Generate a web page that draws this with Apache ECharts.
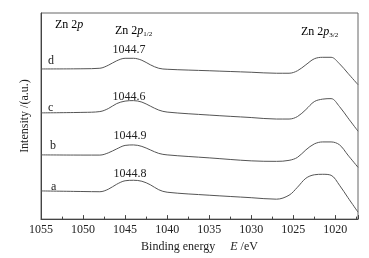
<!DOCTYPE html>
<html>
<head>
<meta charset="utf-8">
<script src="https://cdn.jsdelivr.net/npm/echarts@6/dist/echarts.min.js"></script>
<style>
  html, body { margin: 0; padding: 0; background: #fff; }
  #chart { width: 369px; height: 258px; }
</style>
</head>
<body>
<div id="chart"></div>
<script>
// binding energy (eV), shared by all four spectra
const energy = [1055, 1050, 1048, 1047, 1046, 1045, 1044, 1043, 1042, 1041, 1040, 1035, 1030, 1027, 1025.5, 1024.5, 1023.5, 1022.5, 1021.5, 1020.5, 1019.5, 1018.5, 1017.3];
// intensity (a.u.), curves stacked a (bottom) .. d (top)
const curveA = [28.3, 27.7, 27.5, 30, 35, 38.5, 39, 38, 34.5, 29.5, 27, 24, 21.5, 20, 24, 32, 41, 44.5, 45, 44, 34, 21.6, 7];
const curveB = [64.5, 64.3, 64.3, 66.5, 70.5, 74, 74.5, 73, 69.5, 66, 64.5, 61.5, 58.5, 58, 59, 62, 69.5, 75.5, 77.5, 77.5, 74.6, 64.3, 52];
const curveC = [106.7, 107.2, 108, 111, 116, 118.5, 119, 117.5, 113.5, 109.5, 107.5, 104.5, 102, 100.5, 100.5, 103, 110, 118, 120.5, 121, 113, 101.7, 88.3];
const curveD = [150.8, 151, 151.5, 154.5, 159, 161.5, 161.5, 159.5, 155, 151.5, 150.5, 149, 147.5, 146.5, 146.5, 149, 155, 161, 162.5, 162.5, 156, 146.5, 135];
const curveNames = ['a', 'b', 'c', 'd'];
const peakLabels = ['1044.8', '1044.9', '1044.6', '1044.7'];

const font = 'Liberation Serif, Times New Roman, serif';
const lineColor = '#555';
const textColor = '#222';

function pairs(vals) {
  return energy.map((e, i) => [e, vals[i]]);
}

const series = [curveA, curveB, curveC, curveD].map((vals, i) => ({
  name: curveNames[i],
  type: 'line',
  data: pairs(vals),
  smooth: 0.35,
  symbol: 'none',
  lineStyle: { color: lineColor, width: 1 }
}));

// annotation positions in pixels
const curveLabelPos = [[51, 187], [50, 146], [48, 108], [48, 61]];
const peakLabelPos = [[130, 174], [130, 136], [129, 97], [129, 50]];

const graphic = [];
curveNames.forEach((n, i) => {
  graphic.push({ type: 'text', x: curveLabelPos[i][0], y: curveLabelPos[i][1],
    style: { text: n, font: '12px ' + font, fill: textColor, verticalAlign: 'middle' } });
  graphic.push({ type: 'text', x: peakLabelPos[i][0], y: peakLabelPos[i][1],
    style: { text: peakLabels[i], font: '12px ' + font, fill: textColor, align: 'center', verticalAlign: 'middle' } });
});
const znRich = {
  n: { fontFamily: font, fontSize: 12, color: textColor },
  i: { fontFamily: font, fontSize: 12, fontStyle: 'italic', color: textColor },
  s: { fontFamily: font, fontSize: 7, color: textColor, padding: [6, 0, 0, 0] }
};
graphic.push({ type: 'text', x: 55, y: 25,
  style: { text: '{n|Zn 2}{i|p}', rich: znRich, verticalAlign: 'middle' } });
graphic.push({ type: 'text', x: 115, y: 31,
  style: { text: '{n|Zn 2}{i|p}{s|1/2}', rich: znRich, verticalAlign: 'middle' } });
graphic.push({ type: 'text', x: 301, y: 32,
  style: { text: '{n|Zn 2}{i|p}{s|3/2}', rich: znRich, verticalAlign: 'middle' } });

const option = {
  animation: false,
  backgroundColor: '#fff',
  grid: { left: 41, right: 11, top: 13, bottom: 38, show: true, borderColor: '#666', borderWidth: 1 },
  xAxis: {
    type: 'value',
    inverse: true,
    min: 1017.3,
    max: 1055,
    splitNumber: 8,
    axisLine: { lineStyle: { color: '#444' } },
    axisTick: { inside: true, length: 4, lineStyle: { color: '#444' } },
    minorTick: { show: true, splitNumber: 2, length: 2.5, lineStyle: { color: '#444' } },
    splitLine: { show: false },
    axisLabel: {
      color: textColor, fontFamily: font, fontSize: 12, margin: 5,
      formatter: v => (Math.abs(v % 5) < 1e-6 ? String(v) : '')
    },
    name: '{n|Binding energy     }{i|E}{n| /eV}',
    nameLocation: 'middle',
    nameGap: 21,
    nameTextStyle: {
      rich: {
        n: { fontFamily: font, fontSize: 12, color: textColor },
        i: { fontFamily: font, fontSize: 12, fontStyle: 'italic', color: textColor }
      }
    }
  },
  yAxis: {
    type: 'value',
    min: 0,
    max: 207,
    axisLine: { show: true, lineStyle: { color: '#444' } },
    axisTick: { show: false },
    axisLabel: { show: false },
    splitLine: { show: false },
    name: 'Intensity /(a.u.)',
    nameLocation: 'middle',
    nameGap: 10,
    nameTextStyle: { fontFamily: font, fontSize: 12, color: textColor }
  },
  series: series,
  graphic: graphic
};

const myChart = echarts.init(document.getElementById('chart'));
myChart.setOption(option);
</script>
</body>
</html>
